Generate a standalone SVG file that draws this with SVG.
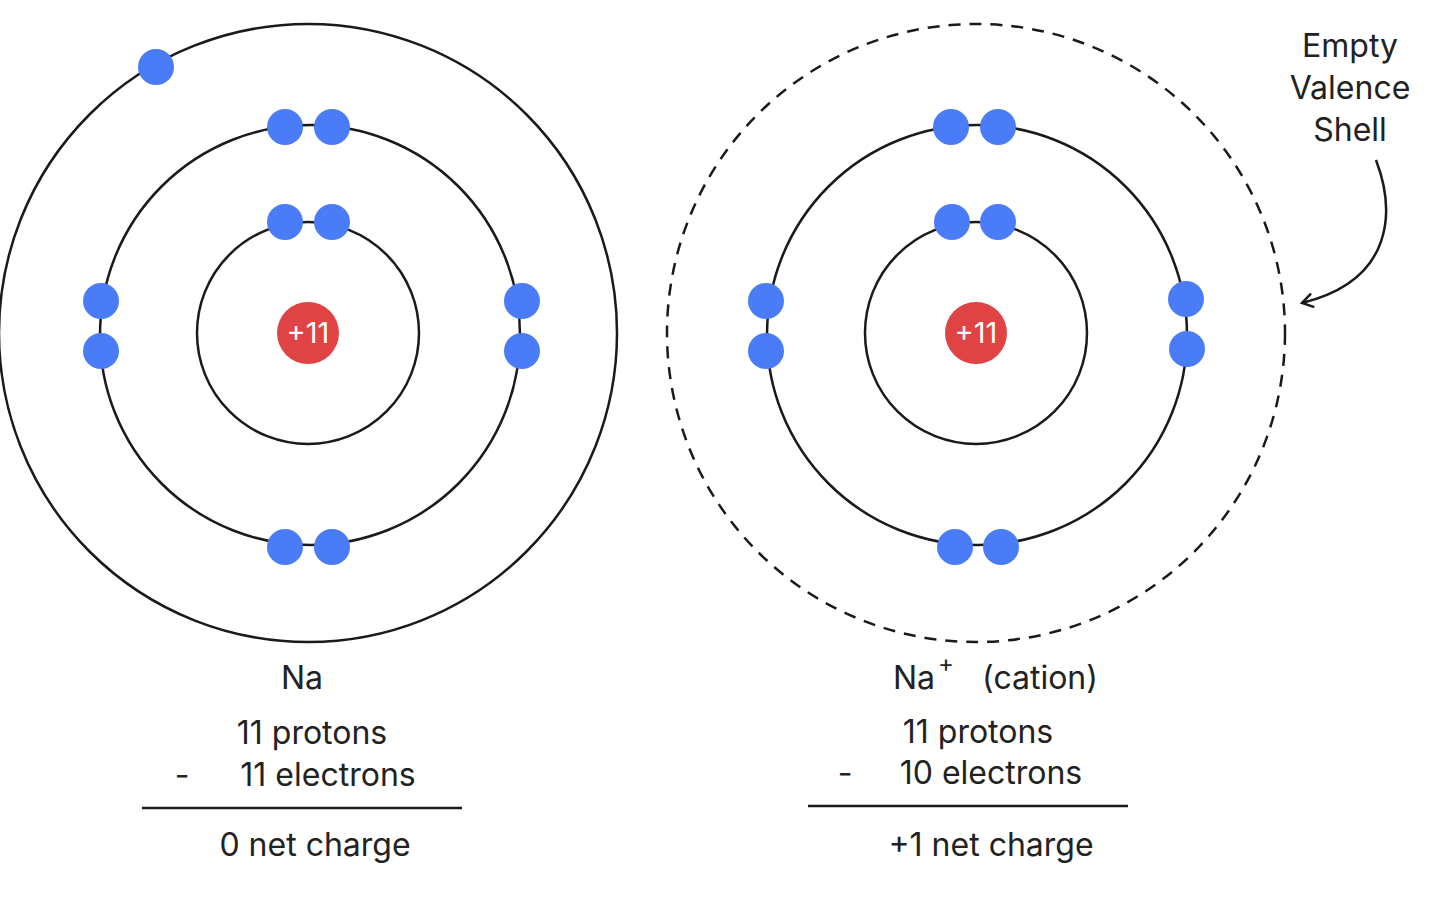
<svg xmlns="http://www.w3.org/2000/svg" width="1440" height="915" viewBox="0 0 1440 915">
<style>
.o{fill:none;stroke:#1a1a1a;stroke-width:2.5}
.d{fill:none;stroke:#1a1a1a;stroke-width:2.5;stroke-dasharray:12 9}
.e{fill:#4a7cf7}
.n{fill:#e04343}
.nt{font-family:Inter,"Liberation Sans",sans-serif;font-size:29px;fill:#fff;text-anchor:middle}
.t{font-family:Inter,"Liberation Sans",sans-serif;font-size:32px;fill:#222;text-anchor:middle}
</style>
<defs><marker id="a" markerWidth="16" markerHeight="16" refX="13" refY="8" orient="auto" markerUnits="userSpaceOnUse"><path d="M2,1 L13,8 L2,15" fill="none" stroke="#1a1a1a" stroke-width="2.5"/></marker></defs>
<rect width="1440" height="915" fill="#fff"/>
<g id="na">
<circle class="o" cx="308" cy="333" r="309"/>
<circle class="o" cx="310" cy="335" r="210"/>
<circle class="o" cx="308" cy="333" r="111"/>
<circle class="n" cx="308" cy="333" r="31"/><text class="nt" x="308" y="343">+11</text>
<circle class="e" cx="156" cy="67" r="18"/>
<circle class="e" cx="285" cy="222" r="18"/><circle class="e" cx="332" cy="222" r="18"/>
<circle class="e" cx="285" cy="127" r="18"/><circle class="e" cx="332" cy="127" r="18"/>
<circle class="e" cx="285" cy="547" r="18"/><circle class="e" cx="332" cy="547" r="18"/>
<circle class="e" cx="101" cy="301" r="18"/><circle class="e" cx="101" cy="351" r="18"/>
<circle class="e" cx="522" cy="301" r="18"/><circle class="e" cx="522" cy="351" r="18"/>
<text class="t" x="302" y="689">Na</text>
<text class="t" x="312" y="744">11 protons</text>
<text class="t" x="182" y="786">-</text>
<text class="t" x="328" y="786">11 electrons</text>
<line x1="142" y1="808" x2="462" y2="808" stroke="#1a1a1a" stroke-width="2.5"/>
<text class="t" x="315" y="856">0 net charge</text>
</g>
<g id="naplus">
<circle class="d" cx="976" cy="333" r="309"/>
<circle class="o" cx="977" cy="335" r="210"/>
<circle class="o" cx="976" cy="333" r="111"/>
<circle class="n" cx="976" cy="333" r="31"/><text class="nt" x="976" y="343">+11</text>
<circle class="e" cx="952" cy="222" r="18"/><circle class="e" cx="998" cy="222" r="18"/>
<circle class="e" cx="951" cy="127" r="18"/><circle class="e" cx="998" cy="127" r="18"/>
<circle class="e" cx="955" cy="547" r="18"/><circle class="e" cx="1001" cy="547" r="18"/>
<circle class="e" cx="766" cy="301" r="18"/><circle class="e" cx="766" cy="351" r="18"/>
<circle class="e" cx="1186" cy="299" r="18"/><circle class="e" cx="1187" cy="349" r="18"/>
<text class="t" x="914" y="689">Na</text><text class="t" x="946" y="672" style="font-size:24px">+</text>
<text class="t" x="1040" y="689">(cation)</text>
<text class="t" x="978" y="743">11 protons</text>
<text class="t" x="845" y="784">-</text>
<text class="t" x="991" y="784">10 electrons</text>
<line x1="808" y1="806" x2="1128" y2="806" stroke="#1a1a1a" stroke-width="2.5"/>
<text class="t" x="991" y="856">+1 net charge</text>
</g>
<g id="label">
<text class="t" x="1350" y="57">Empty</text>
<text class="t" x="1350" y="99">Valence</text>
<text class="t" x="1350" y="141">Shell</text>
</g>
<g id="connectors">
<path d="M1376,160 C1395,210 1395,280 1302,303" fill="none" stroke="#1a1a1a" stroke-width="2.5" marker-end="url(#a)"/>
</g>
</svg>
